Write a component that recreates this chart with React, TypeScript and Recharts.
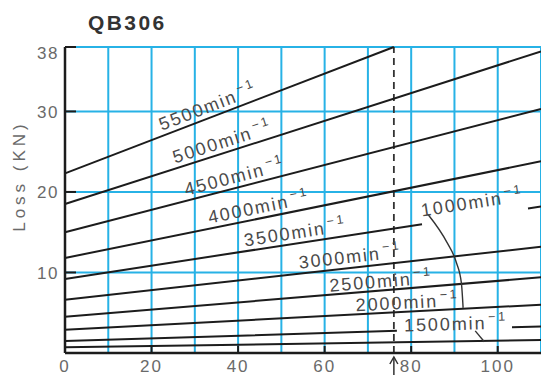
import { CartesianGrid, Line, LineChart, ReferenceDot, ReferenceLine, XAxis, YAxis } from 'recharts'

// speed curves (loss in kN at x = 0 and at the right end)
const SPEEDS = [5500, 5000, 4500, 4000, 3500, 3000, 2500, 2000, 1500, 1000]
const LOSS_AT_ZERO = [22.3, 18.5, 15.0, 11.8, 9.2, 6.6, 4.5, 2.9, 1.5, 0.7]
const END_X = [76, 110, 110, 110, 110, 110, 110, 110, 110, 110]
const LOSS_AT_END = [38, 37.45, 30.3, 23.8, 18.2, 13.2, 9.4, 6.0, 3.3, 1.6]

// visible ends of the two curves that are broken by a label
const GAP_3500 = [
  { x: 82.5, loss: 16.0 },
  { x: 107, loss: 17.95 },
]
const GAP_1500 = [
  { x: 76.7, loss: 2.75 },
  { x: 103.3, loss: 3.2 },
]

// leader strokes from the 1000 and 1500 labels
const LEADER_1000 = [
  { x: 83.9, loss: 17.2 },
  { x: 88.3, loss: 13.7 },
  { x: 90.4, loss: 11.3 },
  { x: 91.6, loss: 8.7 },
  { x: 92.0, loss: 5.6 },
]
const LEADER_1500 = [
  { x: 94.8, loss: 2.75 },
  { x: 96.9, loss: 1.4 },
]

const RATED_X = 76
const X_TICKS = [0, 10, 20, 30, 40, 50, 60, 70, 80, 90, 100, 110]
const X_LABELS = [0, 20, 40, 60, 80, 100]
const Y_TICKS = [0, 10, 20, 30, 38]

// label placement: start x on the curve, which curve it hugs, lift above it (px)
const LABEL_AT_X = [22.8, 25.8, 28.3, 33.6, 41.8, 54.3, 61.3, 67.3, 78.4, 82.8]
const LABEL_ON_LINE = [0, 1, 2, 3, 4, 5, 6, 7, 8, 4]
const LABEL_LIFT = [5, 5, 5, 5, 5, 5, 3, 3, -1, 8]

const W = 541
const H = 375
const PX_PER_X = 476 / 110
const PX_PER_Y = 306 / 38
const INK = '#1c1c1c'
const GRID = '#27b2e6'
const TEXT = '#4a4a4a'
const FONT = '"Liberation Sans", Arial, sans-serif'

function slopeOf(i: number) {
  return (LOSS_AT_END[i] - LOSS_AT_ZERO[i]) / END_X[i]
}

function lossOn(i: number, x: number) {
  return LOSS_AT_ZERO[i] + slopeOf(i) * x
}

function angleOf(i: number) {
  return (-Math.atan((slopeOf(i) * PX_PER_Y) / PX_PER_X) * 180) / Math.PI
}

const SERIES = SPEEDS.map((speed, i) => {
  const pts: { x: number; loss: number | null }[] = [{ x: 0, loss: LOSS_AT_ZERO[i] }]
  const gap = speed === 3500 ? GAP_3500 : speed === 1500 ? GAP_1500 : null
  if (gap) pts.push(gap[0], { x: (gap[0].x + gap[1].x) / 2, loss: null }, gap[1])
  pts.push({ x: END_X[i], loss: LOSS_AT_END[i] })
  return { speed, pts }
})

function YTick({ x, y, payload }: any) {
  const v = payload.value
  if (v === 0) return <g />
  return (
    <g>
      <line x1={x + 5} x2={x + 16} y1={y} y2={y} stroke={INK} strokeWidth={2} />
      <text
        x={x - 1}
        y={y + (v === 38 ? 6 : 1)}
        textAnchor="end"
        dominantBaseline="central"
        fontSize={17}
        letterSpacing={1.5}
        fill="#6a6a6a"
        fontFamily={FONT}
      >
        {v}
      </text>
    </g>
  )
}

function XTick({ x, y, payload }: any) {
  const v = payload.value
  if (!X_LABELS.includes(v)) return <g />
  return (
    <g>
      {v > 0 ? <line x1={x} x2={x} y1={y} y2={y - 7} stroke={INK} strokeWidth={2} /> : null}
      <text x={x} y={y + 19} textAnchor="middle" fontSize={17} letterSpacing={2} fill="#6a6a6a" fontFamily={FONT}>
        {v}
      </text>
    </g>
  )
}

function SpeedLabel({ cx, cy, angle, lift, speed }: any) {
  return (
    <text
      x={cx}
      y={cy - lift}
      transform={`rotate(${angle} ${cx} ${cy})`}
      fontSize={18}
      letterSpacing={1.9}
      fill={TEXT}
      fontFamily={FONT}
    >
      {speed}min
      <tspan dx={2} dy={-8} fontSize={12.5} letterSpacing={2.5}>
        −1
      </tspan>
    </text>
  )
}

function RatedArrow({ cx, cy }: any) {
  return (
    <g stroke="#333" strokeWidth={1.5} fill="none">
      <line x1={cx} x2={cx} y1={cy + 4} y2={cy + 22} />
      <path d={`M${cx - 4},${cy + 11} L${cx},${cy + 4} L${cx + 4},${cy + 11}`} />
    </g>
  )
}

export default function App() {
  return (
    <div style={{ position: 'absolute', left: 0, top: 0, width: W, height: H, background: '#fff', fontFamily: FONT }}>
      <LineChart width={W} height={H} margin={{ top: 47, right: 0, bottom: 0, left: 0 }}>
        <CartesianGrid stroke={GRID} strokeWidth={2} />
        <XAxis
          dataKey="x"
          type="number"
          domain={[0, 110]}
          ticks={X_TICKS}
          interval={0}
          height={22}
          tickSize={0}
          tickMargin={0}
          tickLine={false}
          axisLine={{ stroke: INK, strokeWidth: 2.5 }}
          tick={<XTick />}
        />
        <YAxis
          type="number"
          domain={[0, 38]}
          ticks={Y_TICKS}
          interval={0}
          width={65}
          tickSize={0}
          tickMargin={5}
          tickLine={false}
          axisLine={{ stroke: INK, strokeWidth: 2.5 }}
          tick={<YTick />}
        />
        <ReferenceLine x={RATED_X} stroke="#333" strokeWidth={1.8} strokeDasharray="7 5" />
        {SERIES.map((s) => (
          <Line
            key={s.speed}
            data={s.pts}
            dataKey="loss"
            type="linear"
            stroke={INK}
            strokeWidth={2}
            dot={false}
            connectNulls={false}
            isAnimationActive={false}
          />
        ))}
        <Line
          data={LEADER_1000}
          dataKey="loss"
          type="monotone"
          stroke="#333"
          strokeWidth={1.4}
          dot={false}
          isAnimationActive={false}
        />
        <Line
          data={LEADER_1500}
          dataKey="loss"
          type="linear"
          stroke="#333"
          strokeWidth={1.4}
          dot={false}
          isAnimationActive={false}
        />
        {LABEL_AT_X.map((lx, k) => {
          const li = LABEL_ON_LINE[k]
          return (
            <ReferenceDot
              key={SPEEDS[k]}
              x={lx}
              y={lossOn(li, lx)}
              r={0}
              shape={(p: any) => (
                <SpeedLabel cx={p.cx} cy={p.cy} angle={angleOf(li)} lift={LABEL_LIFT[k]} speed={SPEEDS[k]} />
              )}
            />
          )
        })}
        <ReferenceDot x={RATED_X} y={0} r={0} shape={(p: any) => <RatedArrow cx={p.cx} cy={p.cy} />} />
      </LineChart>
      <div
        style={{
          position: 'absolute',
          left: 88,
          top: 12,
          fontSize: 21,
          lineHeight: '21px',
          fontWeight: 'bold',
          letterSpacing: 2.4,
          color: '#333',
        }}
      >
        QB306
      </div>
      <div
        style={{
          position: 'absolute',
          left: 20 - 70,
          top: 176 - 10,
          width: 140,
          height: 20,
          lineHeight: '20px',
          textAlign: 'center',
          fontSize: 17,
          letterSpacing: 4,
          color: '#6a6a6a',
          transform: 'rotate(-90deg)',
        }}
      >
        Loss (KN)
      </div>
    </div>
  )
}
